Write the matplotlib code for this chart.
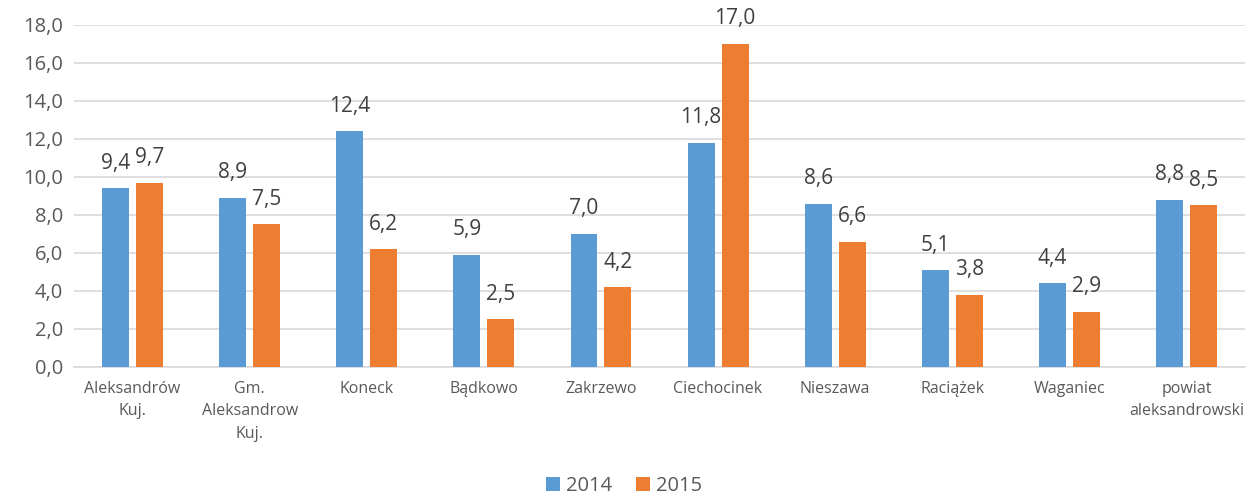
import numpy as np
import matplotlib.pyplot as plt

plt.rcParams['font.family'] = ['Open Sans', 'DejaVu Sans']

categories = ["Aleksandrów\nKuj.", "Gm.\nAleksandrow\nKuj.", "Koneck", "Bądkowo", "Zakrzewo",
              "Ciechocinek", "Nieszawa", "Raciążek", "Waganiec", "powiat\naleksandrowski"]
values_2014 = [9.4, 8.9, 12.4, 5.9, 7.0, 11.8, 8.6, 5.1, 4.4, 8.8]
values_2015 = [9.7, 7.5, 6.2, 2.5, 4.2, 17.0, 6.6, 3.8, 2.9, 8.5]
series_names = ["2014", "2015"]

blue = "#5B9BD5"
orange = "#ED7D31"
text_col = "#595959"

def fmt(v):
    return f"{v:.1f}".replace(".", ",")

fig = plt.figure(figsize=(12.48, 4.97), dpi=100)
ax = fig.add_axes([0.0593, 0.2616, 0.9383, 0.6881])

x = np.arange(len(categories))
w = 0.23
off = 0.145
b1 = ax.bar(x - off, values_2014, w, color=blue, label=series_names[0], zorder=3)
b2 = ax.bar(x + off, values_2015, w, color=orange, label=series_names[1], zorder=3)

# data labels above each bar
for bars, vals in ((b1, values_2014), (b2, values_2015)):
    for rect, v in zip(bars, vals):
        ax.annotate(fmt(v), (rect.get_x() + rect.get_width() / 2, v),
                    xytext=(0, 18), textcoords="offset points",
                    ha="center", va="center", fontsize=15, color="#404040")

ax.set_xlim(-0.5, len(categories) - 0.5)
ax.set_ylim(0, 18)
ax.set_yticks(np.arange(0, 18.1, 2))
ax.set_yticklabels([fmt(t) for t in np.arange(0, 18.1, 2)])
ax.set_xticks(x)
ax.set_xticklabels(categories, fontsize=11.5, color=text_col, va="top", linespacing=1.55)

ax.tick_params(axis="y", length=0, labelsize=14.5, labelcolor=text_col, pad=8)
ax.tick_params(axis="x", length=0, pad=10)
ax.yaxis.grid(True, color="#D9D9D9", linewidth=1.2, zorder=0)
for s in ["top", "right", "left"]:
    ax.spines[s].set_visible(False)
ax.spines["bottom"].set_color("#D9D9D9")
ax.spines["bottom"].set_linewidth(1.2)

fig.legend(handles=[b1, b2], loc="lower center", bbox_to_anchor=(0.5, -0.035), ncol=2,
           frameon=False, fontsize=14.5, labelcolor=text_col,
           handlelength=0.7, handleheight=0.7, handletextpad=0.3, columnspacing=1.2)

fig.savefig("out.png", dpi=100)
